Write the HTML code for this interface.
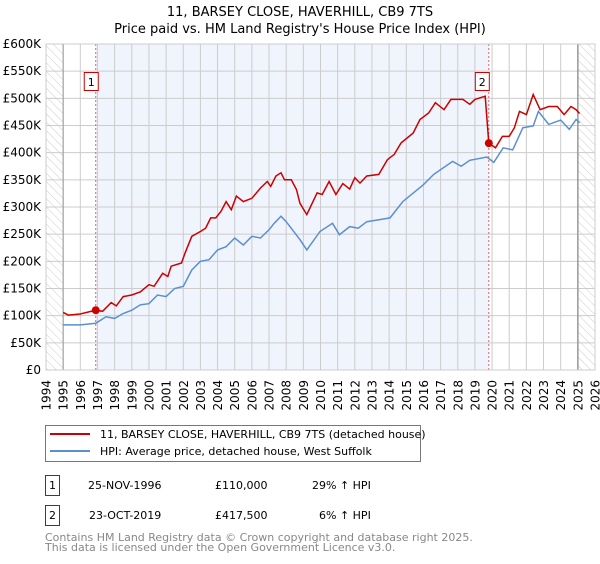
<!DOCTYPE html>
<html><head><meta charset="utf-8"><style>
body{margin:0;background:#fff;font-family:"DejaVu Sans","Liberation Sans",sans-serif;}
svg text{font-family:"DejaVu Sans","Liberation Sans",sans-serif;}
</style></head><body>
<svg id="c" width="600" height="560" xmlns="http://www.w3.org/2000/svg">
<defs><pattern id="hatch" width="6" height="6" patternUnits="userSpaceOnUse" patternTransform="rotate(-45)"><line x1="0" y1="0" x2="0" y2="6" stroke="#ccc" stroke-width="1"/></pattern></defs>
<text x="300" y="16" text-anchor="middle" font-size="13">11, BARSEY CLOSE, HAVERHILL, CB9 7TS</text>
<text x="300" y="33" text-anchor="middle" font-size="13">Price paid vs. HM Land Registry's House Price Index (HPI)</text>
<g id="plot"></g>
<g>
<rect x="45.5" y="425.5" width="375" height="36" fill="#fff" stroke="#777"/>
<line x1="50" y1="434" x2="90" y2="434" stroke="#cc0000" stroke-width="2"/>
<text x="100" y="438" font-size="11">11, BARSEY CLOSE, HAVERHILL, CB9 7TS (detached house)</text>
<line x1="50" y1="451" x2="90" y2="451" stroke="#5b8fd0" stroke-width="2"/>
<text x="100" y="455" font-size="11">HPI: Average price, detached house, West Suffolk</text>
</g>
<g font-size="11">
<rect x="45.5" y="475.5" width="14" height="20" fill="#fff" stroke="#cc0000"/>
<text x="52.5" y="489" text-anchor="middle">1</text>
<text x="88" y="489">25-NOV-1996</text>
<text x="215" y="489">£110,000</text>
<text x="312" y="489">29% ↑ HPI</text>
<rect x="45.5" y="505.5" width="14" height="20" fill="#fff" stroke="#cc0000"/>
<text x="52.5" y="519" text-anchor="middle">2</text>
<text x="89" y="519">23-OCT-2019</text>
<text x="215" y="519">£417,500</text>
<text x="319" y="519">6% ↑ HPI</text>
</g>
<text x="45" y="541" font-size="11" fill="#888">Contains HM Land Registry data © Crown copyright and database right 2025.</text>
<text x="45" y="551" font-size="11" fill="#888">This data is licensed under the Open Government Licence v3.0.</text>
</svg>
<script>
const yTicks=[0,50,100,150,200,250,300,350,400,450,500,550,600];
const yTickLabels=["£0","£50K","£100K","£150K","£200K","£250K","£300K","£350K","£400K","£450K","£500K","£550K","£600K"];
const years=[1994,1995,1996,1997,1998,1999,2000,2001,2002,2003,2004,2005,2006,2007,2008,2009,2010,2011,2012,2013,2014,2015,2016,2017,2018,2019,2020,2021,2022,2023,2024,2025,2026];
const hpiT=[1995,1996,1996.9,1997.5,1998,1998.5,1999,1999.5,2000,2000.5,2001,2001.5,2002,2002.5,2003,2003.5,2004,2004.5,2005,2005.5,2006,2006.5,2007,2007.3,2007.7,2008,2008.8,2009.2,2009.97,2010.7,2011.1,2011.7,2012.2,2012.7,2014.05,2014.8,2016,2016.6,2017.7,2018.2,2018.7,2019.7,2020.1,2020.65,2021.2,2021.8,2022.4,2022.7,2023.3,2024,2024.5,2024.9,2025.1];
const hpiV=[83,83,86,98,95,104,110,120,122,138,135,150,154,184,200,203,221,227,243,230,246,243,258,270,283,273,240,221,255,270,249,264,261,273,280,310,341,360,384,375,386,392,382,409,405,446,449,476,452,460,443,461,455];
const propT=[1995,1995.3,1996,1996.9,1997.3,1997.8,1998.1,1998.5,1999,1999.5,2000,2000.3,2000.8,2001.1,2001.3,2001.9,2002.1,2002.5,2003,2003.3,2003.6,2003.9,2004.2,2004.5,2004.8,2005.1,2005.5,2006,2006.5,2006.9,2007.1,2007.4,2007.7,2007.9,2008.3,2008.6,2008.8,2009.2,2009.8,2010.1,2010.5,2010.9,2011.3,2011.7,2012,2012.3,2012.7,2013.4,2013.9,2014.3,2014.7,2015.4,2015.8,2016.3,2016.7,2017.2,2017.6,2018.3,2018.7,2019,2019.6,2019.81,2020.2,2020.6,2021,2021.3,2021.6,2022,2022.4,2022.8,2023.3,2023.8,2024.2,2024.6,2024.9,2025.1];
const propV=[106,101,103,110,108,124,118,135,138,144,157,154,178,172,191,197,215,246,255,261,280,280,292,310,295,320,310,316,335,347,338,357,363,350,350,332,307,286,326,323,347,323,343,333,354,344,357,360,387,397,418,436,461,473,492,479,498,498,489,498,504,417.5,409,430,430,446,476,470,507,479,485,485,470,485,479,472];
const saleT=[1996.9,2019.81];
const saleV=[110,417.5];
const saleLabels=["1","2"];
const X0=46,X1=595,Y0=370,Y1=44;
const xs=t=>X0+(t-1994)/32*(X1-X0);
const ys=v=>Y0-v/600*(Y0-Y1);
const NS="http://www.w3.org/2000/svg";
const g=document.getElementById('plot');
function mk(tag,attrs,parent){const e=document.createElementNS(NS,tag);for(const k in attrs)e.setAttribute(k,attrs[k]);(parent||g).appendChild(e);return e;}
mk('rect',{x:X0,y:Y1,width:X1-X0,height:Y0-Y1,fill:'#fff'});
const shade=mk('rect',{x:xs(saleT[0]),y:Y1,width:xs(saleT[1])-xs(saleT[0]),height:Y0-Y1,fill:'#f0f4fd'});


const h1=mk('rect',{x:X0,y:Y1,width:xs(1995)-X0,height:Y0-Y1,fill:'url(#hatch)'});


const h2=mk('rect',{x:xs(2025),y:Y1,width:X1-xs(2025),height:Y0-Y1,fill:'url(#hatch)'});


years.forEach(y=>{mk('line',{x1:xs(y),x2:xs(y),y1:Y1,y2:Y0,stroke:'#ccc','stroke-width':1});
 const t=mk('text',{x:0,y:0,'font-size':12,'text-anchor':'end',transform:`translate(${xs(y)+4.5},${Y0+10}) rotate(-90)`});t.textContent=y;
 
 });
yTicks.forEach((v,i)=>{mk('line',{x1:X0,x2:X1,y1:ys(v),y2:ys(v),stroke:'#ccc','stroke-width':1});
 const t=mk('text',{x:X0-5,y:ys(v)+4,'font-size':12,'text-anchor':'end'});t.textContent=yTickLabels[i];
 
 });
mk('line',{x1:xs(1995),x2:xs(1995),y1:Y1,y2:Y0,stroke:'#999','stroke-width':1});
mk('line',{x1:xs(2025),x2:xs(2025),y1:Y1,y2:Y0,stroke:'#999','stroke-width':1.5});
saleT.forEach(t=>{mk('line',{x1:xs(t),x2:xs(t),y1:Y1,y2:Y0,stroke:'#e06060','stroke-width':1,'stroke-dasharray':'2,2'});});
const hp=mk('path',{d:hpiT.map((t,i)=>(i?'L':'M')+xs(t).toFixed(1)+','+ys(hpiV[i]).toFixed(1)).join(''),fill:'none',stroke:'#5b8fd0','stroke-width':1.5});


const pp=mk('path',{d:propT.map((t,i)=>(i?'L':'M')+xs(t).toFixed(1)+','+ys(propV[i]).toFixed(1)).join(''),fill:'none',stroke:'#cc0000','stroke-width':1.5});


saleT.forEach((t,i)=>{const c=mk('circle',{cx:xs(t),cy:ys(saleV[i]),r:4,fill:'#cc0000'});
 
 
 const bx=xs(t)-(i?12:10);
 const r=mk('rect',{x:bx-1.5,y:72.5,width:14,height:18,fill:'#fff',stroke:'#cc0000'});
 
 
 const tx=mk('text',{x:bx+5.5,y:86,'font-size':11,'text-anchor':'middle'});tx.textContent=saleLabels[i];
 
 });
mk('rect',{x:X0,y:Y1,width:X1-X0,height:Y0-Y1,fill:'none',stroke:'#ccc'});
</script>
</body></html>
